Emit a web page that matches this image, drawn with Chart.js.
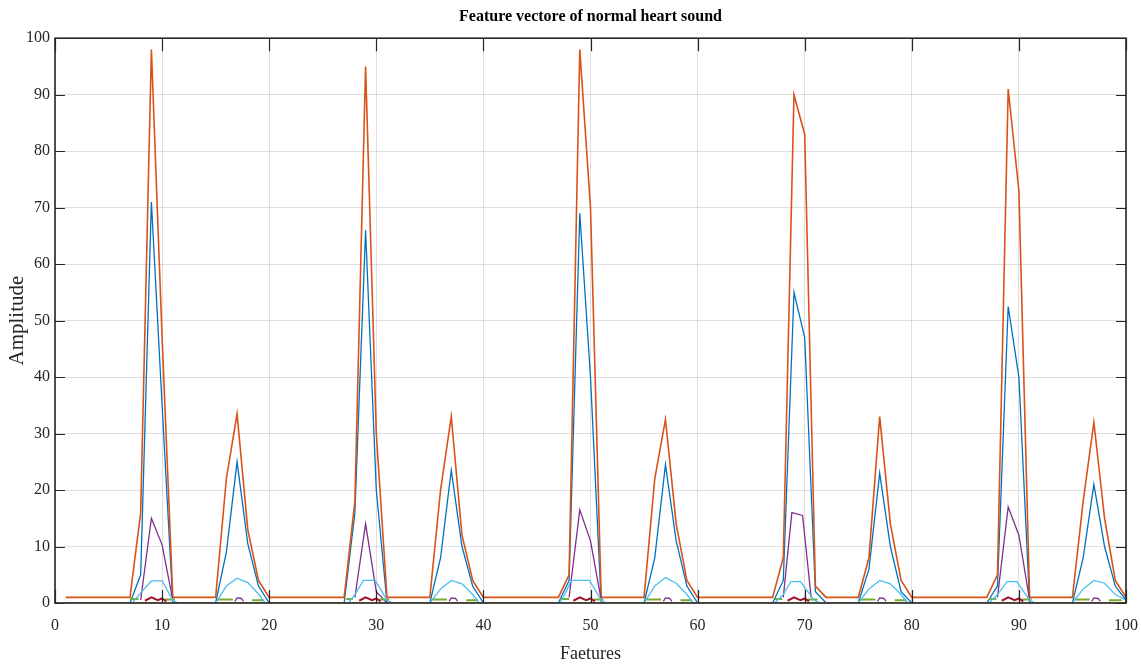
<!DOCTYPE html>
<html>
<head>
<meta charset="utf-8">
<script src="https://cdn.jsdelivr.net/npm/chart.js@4.4.1/dist/chart.umd.min.js"></script>
<style>
  html, body { margin: 0; padding: 0; background: #fff; }
  #wrap { width: 1141px; height: 668px; }
</style>
</head>
<body>
<div id="wrap"><canvas id="myChart"></canvas></div>
<script>
const titulo = "Feature vectore of normal heart sound";
const xTicks = [0, 10, 20, 30, 40, 50, 60, 70, 80, 90, 100];
const yTicks = [0, 10, 20, 30, 40, 50, 60, 70, 80, 90, 100];

// serie 1 (azul)
const blueX = [1, 7, 8, 9, 10, 11, 15, 16, 17, 18, 19, 20, 27, 28, 29, 30, 31, 35, 36, 37, 38, 39, 40, 47, 48, 49, 50, 51, 55, 56, 57, 58, 59, 60, 67, 68, 69, 70, 71, 72, 75, 76, 77, 78, 79, 80, 87, 88, 89, 90, 91, 95, 96, 97, 98, 99, 100];
const blueY = [0, 0, 5, 71, 35, 0, 0, 9, 25, 10.5, 3, 0, 0, 16, 66, 20, 0, 0, 8, 23.5, 10, 3, 0, 0, 4, 69, 40, 0, 0, 8, 24.5, 11, 3, 0, 0, 4, 55, 47, 2, 0, 0, 6, 23, 10, 2, 0, 0, 3, 52.5, 40, 0, 0, 8, 21, 10, 3, 0.5];

// serie 2 (naranja)
const orangeX = [1, 7, 8, 9, 10, 11, 15, 16, 17, 18, 19, 20, 27, 28, 29, 30, 31, 35, 36, 37, 38, 39, 40, 47, 48, 49, 50, 51, 55, 56, 57, 58, 59, 60, 67, 68, 69, 70, 71, 72, 75, 76, 77, 78, 79, 80, 87, 88, 89, 90, 91, 95, 96, 97, 98, 99, 100];
const orangeY = [1, 1, 16, 98, 47, 1, 1, 22, 33.5, 13, 4, 1, 1, 18, 95, 30, 1, 1, 20, 33, 12, 4, 1, 1, 5, 98, 70, 1, 1, 22, 32.5, 14, 4, 1, 1, 8, 90, 83, 3, 1, 1, 8, 33, 14, 4, 1, 1, 5, 91, 73, 1, 1, 18, 32, 15, 4, 1];

// serie 3 (amarillo)
const yellowX = [1, 100];
const yellowY = [0, 0];

// serie 4 (morado)
const purpleX = [8, 9, 10, 11, 11.1, 16.8, 17, 17.4, 17.6, 17.7, 28, 29, 30, 31, 31.1, 36.8, 37, 37.4, 37.6, 37.7, 48, 49, 50, 51, 51.1, 56.8, 57, 57.4, 57.6, 57.7, 68, 68.8, 69.8, 70.6, 70.7, 76.8, 77, 77.4, 77.6, 77.7, 88, 89, 90, 91, 91.1, 96.8, 97, 97.4, 97.6];
const purpleY = [0.5, 15, 10.3, 0.5, null, 0.3, 0.9, 0.8, 0.3, null, 1, 14, 2, 0, null, 0.3, 0.9, 0.8, 0.3, null, 1, 16.5, 11, 0.5, null, 0.3, 0.9, 0.8, 0.3, null, 1, 16, 15.5, 1, null, 0.3, 0.9, 0.8, 0.3, null, 1, 17, 12, 0.5, null, 0.3, 0.9, 0.8, 0.3];

// serie 5 (verde)
const greenX = [7, 7.8, 7.9, 10.3, 11.2, 11.3, 15.2, 16.6, 16.7, 18.4, 19.5, 19.6, 27.2, 27.8, 27.9, 30.3, 31.2, 31.3, 35.2, 36.6, 36.7, 38.4, 39.5, 39.6, 47.2, 48, 48.1, 50.3, 51.2, 51.3, 55.2, 56.6, 56.7, 58.4, 59.5, 59.6, 67.2, 67.9, 68, 70.3, 71.2, 71.3, 75.2, 76.6, 76.7, 78.4, 79.5, 79.6, 87.2, 87.9, 88, 90.3, 91.2, 91.3, 95.2, 96.6, 96.7, 98.4, 99.6];
const greenY = [0.7, 0.7, null, 0.6, 0.6, null, 0.6, 0.6, null, 0.5, 0.5, null, 0.7, 0.7, null, 0.6, 0.6, null, 0.6, 0.6, null, 0.5, 0.5, null, 0.7, 0.7, null, 0.6, 0.6, null, 0.6, 0.6, null, 0.5, 0.5, null, 0.7, 0.7, null, 0.6, 0.6, null, 0.6, 0.6, null, 0.5, 0.5, null, 0.7, 0.7, null, 0.6, 0.6, null, 0.6, 0.6, null, 0.5, 0.5];

// serie 6 (celeste)
const cyanX = [7.2, 8, 9, 10, 11, 11.5, 11.6, 15, 16, 17, 18, 19, 19.6, 19.7, 27.4, 28, 28.8, 29.9, 31, 31.5, 31.6, 35, 36, 37, 38, 39, 39.6, 39.7, 47.1, 47.6, 48.2, 49.9, 51, 51.5, 51.6, 55, 56, 57, 58, 59, 59.6, 59.7, 67.2, 68, 68.7, 69.6, 70.9, 71.4, 71.5, 75, 76, 77, 78, 79, 79.6, 79.7, 87.2, 88, 88.9, 89.8, 91, 91.5, 91.6, 95, 96, 97, 98, 99, 100];
const cyanY = [0, 1.8, 3.9, 3.9, 0.5, 0, null, 0, 3, 4.4, 3.6, 1.6, 0, null, 0, 1.5, 4, 4, 0.5, 0, null, 0, 2.5, 4, 3.4, 1.5, 0, null, 0, 1.5, 4, 4, 0.5, 0, null, 0, 3, 4.5, 3.5, 1.5, 0, null, 0, 1.5, 3.8, 3.8, 0.5, 0, null, 0, 2.5, 4, 3.4, 1.5, 0, null, 0, 1.5, 3.8, 3.8, 0.5, 0, null, 0, 2.5, 4, 3.5, 1.5, 0.5];

// serie 7 (rojo oscuro)
const redX = [8.4, 9, 9.6, 10, 10.4, 10.5, 28.4, 29, 29.6, 30, 30.4, 30.5, 48.4, 49, 49.6, 50, 50.4, 50.5, 68.4, 69, 69.6, 70, 70.4, 70.5, 88.4, 89, 89.6, 90, 90.4];
const redY = [0.4, 1, 0.5, 0.8, 0.3, null, 0.4, 1, 0.5, 0.8, 0.3, null, 0.4, 1, 0.5, 0.8, 0.3, null, 0.4, 1, 0.5, 0.8, 0.3, null, 0.4, 1, 0.5, 0.8, 0.3];

function puntos(xs, ys) {
    return xs.map((x, i) => ({ x: x, y: ys[i] }));
}

function serie(data, color, orden, ancho) {
    return {
        data: data,
        borderColor: color,
        backgroundColor: color,
        borderWidth: ancho || 1.3,
        pointRadius: 0,
        tension: 0,
        fill: false,
        spanGaps: false,
        order: orden
    };
}

// ejes tipo matlab: titulo centrado sobre el area, caja y marcas hacia adentro
const cajaMatlab = {
    id: "cajaMatlab",
    afterLayout(chart) {
        const t = chart.titleBlock;
        if (t) {
            t.left = chart.chartArea.left;
            t.right = chart.chartArea.right;
        }
    },
    afterDatasetsDraw(chart) {
        const { ctx, chartArea: a, scales: { x, y } } = chart;
        ctx.save();
        ctx.strokeStyle = "#262626";
        ctx.lineWidth = 1.2;
        ctx.beginPath();
        xTicks.forEach(v => {
            const px = Math.round(x.getPixelForValue(v)) + 0.5;
            ctx.moveTo(px, a.bottom); ctx.lineTo(px, a.bottom - 13);
            ctx.moveTo(px, a.top); ctx.lineTo(px, a.top + 13);
        });
        yTicks.forEach(v => {
            const py = Math.round(y.getPixelForValue(v)) + 0.5;
            ctx.moveTo(a.left, py); ctx.lineTo(a.left + 10, py);
            ctx.moveTo(a.right, py); ctx.lineTo(a.right - 10, py);
        });
        ctx.stroke();
        ctx.lineWidth = 1.6;
        ctx.strokeRect(a.left, a.top, a.right - a.left, a.bottom - a.top);
        ctx.restore();
    }
};

const fuente = "'Liberation Serif', 'Times New Roman', serif";
const canvas = document.getElementById("myChart");

const myChart = new Chart(canvas, {
    type: "line",
    data: {
        datasets: [
            serie(puntos(blueX, blueY), "#0072BD", 7),
            serie(puntos(orangeX, orangeY), "#D95319", 6, 1.6),
            serie(puntos(yellowX, yellowY), "#EDB120", 5, 1.6),
            serie(puntos(purpleX, purpleY), "#7E2F8E", 4),
            serie(puntos(greenX, greenY), "#77AC30", 3, 2),
            serie(puntos(cyanX, cyanY), "#4DBEEE", 2),
            serie(puntos(redX, redY), "#A2142F", 1, 2)
        ]
    },
    options: {
        responsive: true,
        maintainAspectRatio: false,
        animation: false,
        layout: { padding: { left: 0, right: 15, top: 0, bottom: 0 } },
        plugins: {
            legend: { display: false },
            tooltip: { enabled: false },
            title: {
                display: true,
                text: titulo,
                color: "#000",
                font: { family: fuente, size: 16, weight: "bold" },
                padding: { top: 7, bottom: 12 }
            }
        },
        scales: {
            x: {
                type: "linear",
                min: 0,
                max: 100,
                afterFit: s => { s.height = 65; },
                ticks: {
                    stepSize: 10,
                    color: "#262626",
                    font: { family: fuente, size: 16, lineHeight: 2.45 },
                    padding: 3,
                    maxRotation: 0
                },
                grid: { color: "rgba(38,38,38,0.15)", drawTicks: false },
                border: { display: false },
                title: {
                    display: true,
                    text: "Faetures",
                    color: "#262626",
                    font: { family: fuente, size: 18 },
                    padding: { top: 0, bottom: 3 }
                }
            },
            y: {
                type: "linear",
                min: 0,
                max: 100,
                afterFit: s => { s.width = 55; },
                ticks: {
                    stepSize: 10,
                    color: "#262626",
                    font: { family: fuente, size: 16 },
                    padding: 5
                },
                grid: { color: "rgba(38,38,38,0.15)", drawTicks: false },
                border: { display: false },
                title: {
                    display: true,
                    text: "Amplitude",
                    color: "#262626",
                    font: { family: fuente, size: 21 },
                    padding: { top: 5, bottom: 0 }
                }
            }
        }
    },
    plugins: [cajaMatlab]
});
</script>
</body>
</html>
